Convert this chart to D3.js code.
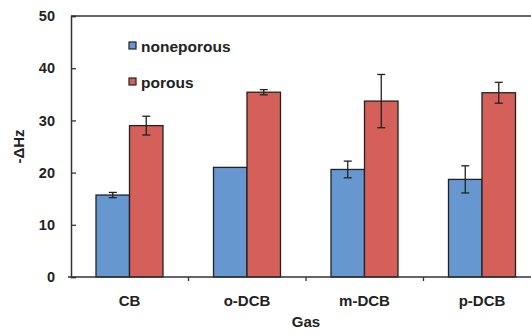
<!DOCTYPE html>
<meta charset="utf-8">
<style>
  body { margin: 0; background: #fff; }
  text { font-family: "Liberation Sans", Arial, sans-serif; font-weight: bold; fill: #222; }
</style>
<script src="https://d3js.org/d3.v7.min.js"></script>
<body>
<script>
// data
var gases = ["CB", "o-DCB", "m-DCB", "p-DCB"];
var seriesNames = ["noneporous", "porous"];
var nonporous = [15.7, 21.0, 20.6, 18.7];
var nonporousErr = [0.5, 0, 1.6, 2.6];
var porous = [29.0, 35.4, 33.7, 35.3];
var porousErr = [1.8, 0.5, 5.1, 2.0];
var yTicks = [0, 10, 20, 30, 40, 50];

var colors = {noneporous: "#6697cf", porous: "#d5605a"};

var W = 531, H = 336;
var margin = {top: 16, right: -10, bottom: 59, left: 71};
var width = W - margin.left - margin.right,
    height = H - margin.top - margin.bottom;

var svg = d3.select("body").append("svg")
    .attr("width", W).attr("height", H)
  .append("g")
    .attr("transform", "translate(" + margin.left + "," + margin.top + ")");

var x0 = d3.scaleBand().domain(gases).range([0, width]);
var x1 = d3.scaleBand().domain(seriesNames).range([25, 92]);
var y = d3.scaleLinear().domain([0, 50]).range([height, 0]);

var rows = gases.map(function(g, i) {
  return {gas: g, values: [
    {name: "noneporous", v: nonporous[i], e: nonporousErr[i]},
    {name: "porous", v: porous[i], e: porousErr[i]}
  ]};
});

// top frame line
svg.append("line")
    .attr("x1", 0).attr("x2", width + 10).attr("y1", 0).attr("y2", 0)
    .attr("stroke", "#333").attr("stroke-width", 1.5);

var slice = svg.selectAll(".slice")
    .data(rows)
  .enter().append("g")
    .attr("transform", function(d) { return "translate(" + x0(d.gas) + ",0)"; });

slice.selectAll("rect")
    .data(function(d) { return d.values; })
  .enter().append("rect")
    .attr("x", function(d) { return x1(d.name); })
    .attr("width", x1.bandwidth())
    .attr("y", function(d) { return y(d.v); })
    .attr("height", function(d) { return height - y(d.v); })
    .attr("fill", function(d) { return colors[d.name]; })
    .attr("stroke", "#222").attr("stroke-width", 1.3);

// error bars
var eb = slice.selectAll(".err")
    .data(function(d) { return d.values.filter(function(v) { return v.e > 0; }); })
  .enter().append("g")
    .attr("transform", function(d) { return "translate(" + (x1(d.name) + x1.bandwidth() / 2) + ",0)"; })
    .attr("stroke", "#222").attr("stroke-width", 1.3);
eb.append("line")
    .attr("y1", function(d) { return y(d.v + d.e); })
    .attr("y2", function(d) { return y(d.v - d.e); });
eb.append("line").attr("x1", -4).attr("x2", 4)
    .attr("y1", function(d) { return y(d.v + d.e); })
    .attr("y2", function(d) { return y(d.v + d.e); });
eb.append("line").attr("x1", -4).attr("x2", 4)
    .attr("y1", function(d) { return y(d.v - d.e); })
    .attr("y2", function(d) { return y(d.v - d.e); });

// y axis, ticks pointing inward
var yAxis = svg.append("g")
    .call(d3.axisRight(y).tickValues(yTicks).tickSize(5));
yAxis.select(".domain").attr("stroke", "#333").attr("stroke-width", 1.5);
yAxis.selectAll(".tick line").attr("stroke", "#333").attr("stroke-width", 1.3);
yAxis.selectAll("text").attr("text-anchor", "end").attr("x", -16)
    .style("font-size", "14.5px");

// x axis, ticks at category boundaries
var xAxis = svg.append("g").attr("transform", "translate(0," + height + ")");
xAxis.append("line").attr("x1", -3).attr("x2", width + 10)
    .attr("stroke", "#333").attr("stroke-width", 1.5);
xAxis.selectAll(".bt")
    .data(gases.slice(1))
  .enter().append("line")
    .attr("x1", function(d) { return x0(d); }).attr("x2", function(d) { return x0(d); })
    .attr("y1", 0).attr("y2", 4)
    .attr("stroke", "#333").attr("stroke-width", 1.3);
xAxis.selectAll(".cl")
    .data(gases)
  .enter().append("text")
    .attr("x", function(d) { return x0(d) + x1("porous"); })
    .attr("y", 29)
    .attr("text-anchor", "middle")
    .style("font-size", "15px")
    .text(function(d) { return d; });

svg.append("text")
    .attr("x", x0("o-DCB") + x0.bandwidth()) .attr("y", height + 50)
    .attr("text-anchor", "middle").style("font-size", "15px")
    .text("Gas");

svg.append("text")
    .attr("transform", "translate(" + (-47) + "," + (y(25)) + ") rotate(-90)")
    .attr("text-anchor", "middle").style("font-size", "15px")
    .text("-ΔHz");

// legend
var legend = svg.selectAll(".lg")
    .data(seriesNames)
  .enter().append("g")
    .attr("transform", function(d, i) { return "translate(58," + (26 + i * 36) + ")"; });
legend.append("rect")
    .attr("width", 7).attr("height", 7)
    .attr("fill", function(d) { return colors[d]; })
    .attr("stroke", "#222").attr("stroke-width", 1.2);
legend.append("text")
    .attr("x", 12).attr("y", 9.5)
    .style("font-size", "15.5px")
    .text(function(d) { return d; });
</script>
</body>
